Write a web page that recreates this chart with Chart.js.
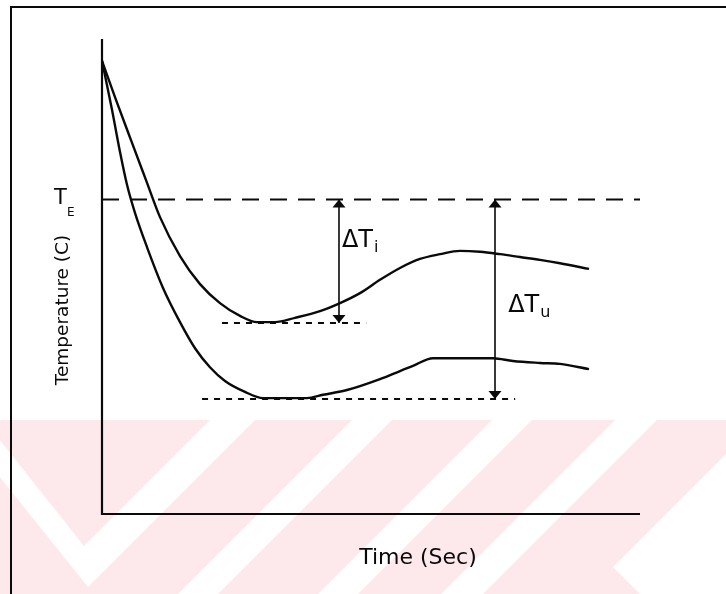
<!DOCTYPE html>
<html><head><meta charset="utf-8">
<script src="https://cdn.jsdelivr.net/npm/chart.js@4"></script>
<style>html,body{margin:0;padding:0;background:#fff;}#wrap{width:726px;height:594px;}</style>
</head><body><div id="wrap"><canvas id="c" width="726" height="594"></canvas></div>
<script>
// ---- data (time and temperature in arbitrary units, 0-100) ----
const timeUpper = [0, 2.6, 5.39, 8.18, 10.78, 14.5, 18.22, 21.93, 25.65, 28.81, 32.16, 35.87, 40.52, 44.24, 47.96, 51.67, 55.39, 59.11, 62.83, 66.54, 70.26, 73.98, 77.7, 81.41, 85.13, 90.52];
const tempUpper = [95.4, 87.2, 78.7, 70.3, 62.5, 54.3, 48.4, 44.4, 41.7, 40.4, 40.4, 41.3, 42.7, 44.4, 46.5, 49.3, 51.8, 53.7, 54.7, 55.4, 55.2, 54.7, 54.1, 53.5, 52.8, 51.6];
const timeLower = [0, 1.86, 3.35, 4.65, 6.13, 8.36, 11.34, 14.5, 17.29, 20.07, 22.86, 26.58, 29.93, 38.1, 41.08, 45.54, 51.67, 55.39, 57.81, 61.52, 72.68, 76.39, 81.41, 85.13, 90.52];
const tempLower = [95.4, 85.1, 76.2, 69.3, 63.4, 56.2, 47.6, 40.4, 34.9, 30.9, 28.0, 25.7, 24.4, 24.4, 25.1, 26.1, 28.4, 30.1, 31.2, 32.8, 32.8, 32.2, 31.8, 31.6, 30.5];
const eutecticTemp = 66.2;                 // T_E
const minTemps = [40.2, 24.2];             // minima of the two curves
const minLineTimes = [[22.3, 49.1], [18.6, 76.8]];
const deltaTimes = [44.05, 73.05];         // where ΔTi and ΔTu are measured
const deltaSubs = ['i', 'u'];
const axisRange = {xMin: 0, xMax: 100, yMin: 0, yMax: 100};
const yTitle = 'Temperature (C)';
const xTitle = 'Time (Sec)';

// ---- annotation placement (data units) ----
const deltaLabelPos = [{x: 44.6, y: 56.2}, {x: 75.5, y: 42.5}];

const INK = '#0a0a0a';
const toXY = (xs, ys) => xs.map((x, i) => ({x, y: ys[i]}));

const datasets = [
  {data: toXY(timeUpper, tempUpper), borderColor: INK, borderWidth: 2.4, cubicInterpolationMode: 'monotone'},
  {data: toXY(timeLower, tempLower), borderColor: INK, borderWidth: 2.4, cubicInterpolationMode: 'monotone'},
  {data: [{x: axisRange.xMin, y: eutecticTemp}, {x: axisRange.xMax, y: eutecticTemp}], borderColor: INK, borderWidth: 2, borderDash: [17, 11]},
];
minTemps.forEach((t, i) => datasets.push({
  data: [{x: minLineTimes[i][0], y: t}, {x: minLineTimes[i][1], y: t}],
  borderColor: INK, borderWidth: 2, borderDash: [6, 6]
}));
deltaTimes.forEach((x, i) => datasets.push({
  data: [{x, y: eutecticTemp}, {x, y: minTemps[i]}],
  borderColor: INK, borderWidth: 1.6
}));

const deco = {
  id: 'deco',
  beforeDraw(chart) {
    const ctx = chart.ctx;
    ctx.save();
    ctx.fillStyle = '#fff';
    ctx.fillRect(0, 0, 726, 594);
    // faint watermark band
    ctx.fillStyle = 'rgb(253,232,236)';
    ctx.fillRect(0, 420, 726, 174);
    ctx.fillStyle = '#fff';
    const poly = pts => { ctx.beginPath(); pts.forEach(([x, y], i) => i ? ctx.lineTo(x, y) : ctx.moveTo(x, y)); ctx.closePath(); ctx.fill(); };
    poly([[-46, 420], [-16, 420], [84, 546], [210, 420], [255, 420], [88, 587]]);
    [[772, 812], [912, 952], [1035, 1077]].forEach(([c1, c2]) => poly([[c1 - 420, 420], [c2 - 420, 420], [c2 - 594, 594], [c1 - 594, 594]]));
    poly([[726, 454], [613, 567], [640, 594], [726, 594]]);
    // frame
    ctx.strokeStyle = INK; ctx.lineWidth = 2;
    ctx.beginPath(); ctx.moveTo(11, 594); ctx.lineTo(11, 7); ctx.lineTo(726, 7); ctx.stroke();
    ctx.restore();
  },
  afterDatasetsDraw(chart) {
    const ctx = chart.ctx, xs = chart.scales.x, ys = chart.scales.y;
    ctx.save();
    ctx.strokeStyle = INK; ctx.fillStyle = INK;
    // axes
    const x0 = xs.getPixelForValue(axisRange.xMin), x1 = xs.getPixelForValue(axisRange.xMax);
    const y0 = ys.getPixelForValue(axisRange.yMin), y1 = ys.getPixelForValue(axisRange.yMax);
    ctx.lineWidth = 2.2;
    ctx.beginPath(); ctx.moveTo(x0, y1); ctx.lineTo(x0, y0); ctx.lineTo(x1, y0); ctx.stroke();
    // arrow heads
    const head = (x, y, dir) => {
      ctx.beginPath(); ctx.moveTo(x, y); ctx.lineTo(x - 6.5, y + dir * 8); ctx.lineTo(x + 6.5, y + dir * 8); ctx.closePath(); ctx.fill();
    };
    deltaTimes.forEach((t, i) => {
      const px = xs.getPixelForValue(t);
      head(px, ys.getPixelForValue(eutecticTemp), 1);
      head(px, ys.getPixelForValue(minTemps[i]), -1);
    });
    // labels
    ctx.textBaseline = 'alphabetic'; ctx.textAlign = 'left';
    deltaLabelPos.forEach((p, i) => {
      const px = xs.getPixelForValue(p.x), py = ys.getPixelForValue(p.y);
      ctx.font = '24px "DejaVu Sans"';
      ctx.fillText('ΔT', px, py);
      const w = ctx.measureText('ΔT').width;
      ctx.font = '16px "DejaVu Sans"';
      ctx.fillText(deltaSubs[i], px + w + 1, py + 5);
    });
    const te = ys.getPixelForValue(eutecticTemp);
    ctx.font = '21px "DejaVu Sans"';
    ctx.fillText('T', x0 - 48, te + 4);
    ctx.font = '12px "DejaVu Sans"';
    ctx.fillText('E', x0 - 35, te + 16);
    ctx.font = '22px "DejaVu Sans"'; ctx.textAlign = 'center';
    ctx.fillText(xTitle, 418, 564);
    ctx.save();
    ctx.translate(68, 310); ctx.rotate(-Math.PI / 2);
    ctx.font = '18.5px "DejaVu Sans"';
    ctx.fillText(yTitle, 0, 0);
    ctx.restore();
    ctx.restore();
  }
};

new Chart(document.getElementById('c'), {
  type: 'line',
  data: {datasets},
  options: {
    responsive: false, animation: false,
    layout: {padding: {left: 102, right: 86, top: 39, bottom: 80}},
    elements: {point: {radius: 0}, line: {fill: false}},
    scales: {
      x: {type: 'linear', min: axisRange.xMin, max: axisRange.xMax, display: false},
      y: {type: 'linear', min: axisRange.yMin, max: axisRange.yMax, display: false}
    },
    plugins: {legend: {display: false}, tooltip: {enabled: false}}
  },
  plugins: [deco]
});
</script></body></html>
